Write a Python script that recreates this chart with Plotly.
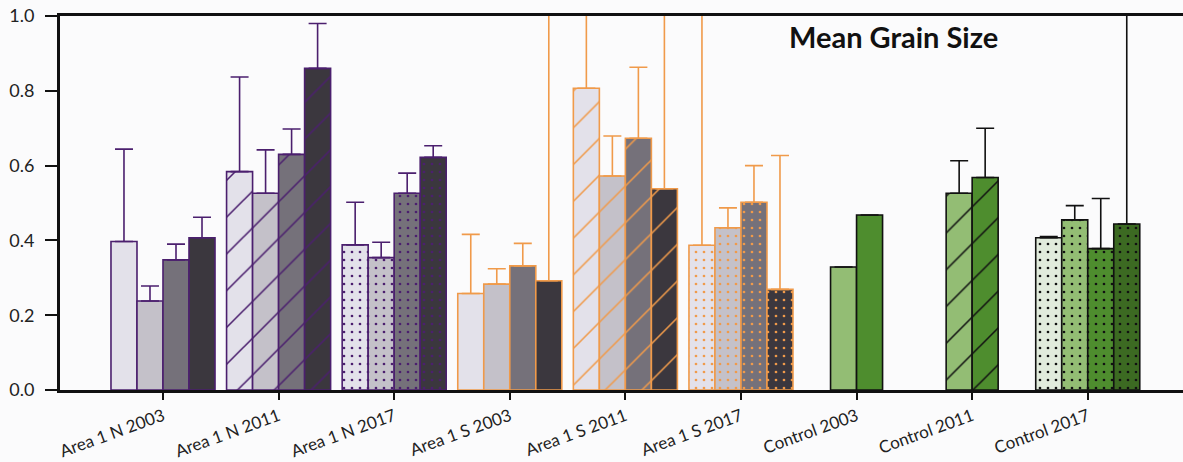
import plotly.graph_objects as go

categories = ["Area 1 N 2003", "Area 1 N 2011", "Area 1 N 2017",
              "Area 1 S 2003", "Area 1 S 2011", "Area 1 S 2017",
              "Control 2003", "Control 2011", "Control 2017"]

# Mean grain size per category, four slots per category (None = no sample)
slot1 = [0.397, 0.584, 0.388, 0.258, 0.807, 0.387, None, None, 0.407]
slot2 = [0.238, 0.526, 0.354, 0.283, 0.572, 0.434, 0.329, 0.526, 0.455]
slot3 = [0.348, 0.630, 0.526, 0.332, 0.673, 0.502, 0.468, 0.568, 0.378]
slot4 = [0.407, 0.860, 0.622, 0.292, 0.538, 0.269, None, None, 0.444]

# Upper error (standard deviation); large values run off the top of the axis
err1 = [0.247, 0.253, 0.114, 0.158, 0.60, 0.70, 0, 0, 0.003]
err2 = [0.040, 0.116, 0.041, 0.041, 0.107, 0.053, 0, 0.087, 0.038]
err3 = [0.042, 0.068, 0.054, 0.060, 0.190, 0.098, 0, 0.132, 0.134]
err4 = [0.055, 0.120, 0.031, 0.80, 0.55, 0.358, 0, 0, 0.60]

slots = [slot1, slot2, slot3, slot4]
errs = [err1, err2, err3, err4]

blocks = [
    {"idx": [0, 1, 2], "line": "#4b1f6e",
     "fills": ["#e3e1ea", "#c4c1c9", "#75717a", "#3b373e"]},
    {"idx": [3, 4, 5], "line": "#f09a4a",
     "fills": ["#e3e1ea", "#c4c1c9", "#75717a", "#3b373e"]},
    {"idx": [6, 7, 8], "line": "#111111",
     "fills": ["#e1ebdc", "#93bd74", "#4e8d2e", "#3c6a22"]},
]
# 2003 solid, 2011 hatched, 2017 dotted
patterns = ["", "/", "."]
pat_size = [8, 26, 8]
pat_solid = [0.1, 0.06, 0.09]

bw = 0.225
fig = go.Figure()
for k in range(4):
    for b in blocks:
        xs, ys, es, shapes, sizes, solids = [], [], [], [], [], []
        for j, i in enumerate(b["idx"]):
            if slots[k][i] is None:
                continue
            xs.append(categories[i])
            ys.append(slots[k][i])
            es.append(errs[k][i])
            shapes.append(patterns[j])
            sizes.append(pat_size[j])
            solids.append(pat_solid[j])
        fig.add_trace(go.Bar(
            x=xs, y=ys,
            offset=-0.45 + k * bw, width=bw,
            marker=dict(color=b["fills"][k],
                        line=dict(color=b["line"], width=1.6),
                        pattern=dict(shape=shapes, fgcolor=b["line"],
                                     fgopacity=1, size=sizes,
                                     solidity=solids, fillmode="overlay")),
            error_y=dict(type="data", array=es, symmetric=False,
                         arrayminus=[0] * len(es), visible=True,
                         color=b["line"], thickness=1.6, width=9),
            showlegend=False,
        ))

fig.update_layout(
    width=1183, height=462,
    margin=dict(l=60, r=0, t=16, b=72),
    paper_bgcolor="#fbfbfc", plot_bgcolor="#fbfbfc",
    barmode="overlay",
    font=dict(family="Lato, Open Sans, sans-serif", color="#222"),
    annotations=[dict(text="<b>Mean Grain Size</b>", x=0.742, y=0.945,
                      xref="paper", yref="paper", xanchor="center",
                      yanchor="middle", showarrow=False,
                      font=dict(size=29, color="#111"))],
)
fig.update_xaxes(
    type="category", categoryorder="array", categoryarray=categories,
    range=[-0.891, 8.824], showline=True, linecolor="#111", linewidth=3,
    mirror=True, ticks="outside", ticklen=7, tickwidth=1.5,
    tickcolor="#111", tickangle=-20, tickfont=dict(size=17),
    showgrid=False, zeroline=False, automargin=False,
)
fig.update_yaxes(
    range=[0, 1.0], tickvals=[0, 0.2, 0.4, 0.6, 0.8, 1.0],
    ticktext=["0.0", "0.2", "0.4", "0.6", "0.8", "1.0"],
    showline=True, linecolor="#111", linewidth=3, ticks="outside",
    ticklen=12, tickwidth=1.5, tickcolor="#111", tickfont=dict(size=18),
    ticklabelstandoff=7, automargin=False,
    showgrid=False, zeroline=False,
)

fig.write_html("out.html")
